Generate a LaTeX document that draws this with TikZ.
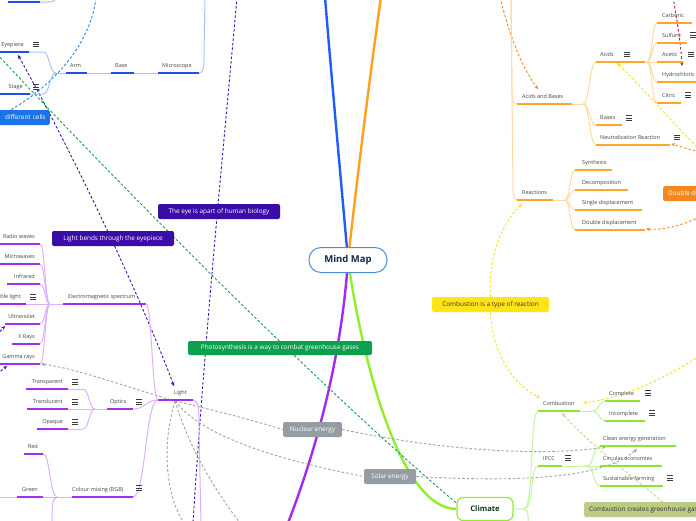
\documentclass[tikz,border=0pt]{standalone}
\usepackage{fontspec}
\setmainfont{Open Sans}
\usetikzlibrary{arrows.meta}
\definecolor{cBlue}{HTML}{1F5BFF}
\definecolor{cBlueD}{HTML}{1E50E8}
\definecolor{cBlueL}{HTML}{A9C3FF}
\definecolor{cOr}{HTML}{FFA11F}
\definecolor{cOrD}{HTML}{FFA52A}
\definecolor{cOrL}{HTML}{FFD9A3}
\definecolor{cPu}{HTML}{A626F5}
\definecolor{cPuD}{HTML}{A52DF2}
\definecolor{cPuL}{HTML}{DDB0FF}
\definecolor{cLi}{HTML}{8FEF2B}
\definecolor{cLiD}{HTML}{8EE52F}
\definecolor{cLiL}{HTML}{C6F49C}
\definecolor{txt}{HTML}{454545}
\definecolor{icon}{HTML}{3C3C3C}
\definecolor{ink}{HTML}{333333}
\definecolor{mmBorder}{HTML}{4A90D9}
\definecolor{mmText}{HTML}{15264A}
\definecolor{climText}{HTML}{17361A}
\definecolor{dIndigo}{HTML}{3A12B5}
\definecolor{bIndigo}{HTML}{3A0CA8}
\definecolor{dGreen}{HTML}{12A050}
\definecolor{bGreen}{HTML}{0BA04D}
\definecolor{dBlue}{HTML}{2B86E8}
\definecolor{bBlue}{HTML}{1A73E8}
\definecolor{dGray}{HTML}{A4A4A4}
\definecolor{bGray}{HTML}{969CA3}
\definecolor{dYel}{HTML}{FFE21A}
\definecolor{bYel}{HTML}{FFE419}
\definecolor{dOr}{HTML}{F08A2A}
\definecolor{bOr}{HTML}{F5871F}
\definecolor{dRed}{HTML}{D0103F}
\definecolor{dOl}{HTML}{C3D08E}
\definecolor{bOl}{HTML}{BCCB86}
\pgfdeclarelayer{back}
\pgfdeclarelayer{bg}
\pgfsetlayers{back,bg,main}
\tikzset{
 lbl/.style={font=\fontsize{5.5}{6.5}\selectfont,text=txt,inner sep=0pt},
 ul/.style={line width=1.7pt},
 cn/.style={line width=1pt},
 mainbr/.style={line width=2.4pt},
 dsh/.style={line width=0.9pt,dash pattern=on 2.6pt off 2pt},
 tipA/.style={-{Stealth[length=4pt,width=3.6pt]}},
 tipB/.style={{Stealth[length=4pt,width=3.6pt]}-{Stealth[length=4pt,width=3.6pt]}},
 lbox/.style={rounded corners=2pt,text=white,font=\fontsize{6.4}{7.5}\selectfont,inner xsep=5pt,inner ysep=0pt,minimum height=15pt},
 menuicon/.pic={\draw[line width=0.75pt,icon] (-3,-2.3)--(3,-2.3) (-3,0)--(3,0) (-3,2.3)--(3,2.3);}
}
\newcommand\tpL[7]{\node[lbl,anchor=base west] (#2) at (#3,#4-5.5) {#7};\draw[ul,#1] (#5,#4) -- (#6,#4);}
\newcommand\tpR[7]{\node[lbl,anchor=base east] (#2) at (#3,#4-5.5) {#7};\draw[ul,#1] (#5,#4) -- (#6,#4);}
\newcommand\micon[2]{\pic at (#1,#2) {menuicon};}
\newcommand\conn[5]{\draw[cn,#1] (#2,#3) .. controls ({(#2+#4)/2},#3) and ({(#2+#4)/2},#5) .. (#4,#5);}
\begin{document}
\begin{tikzpicture}[x=1pt,y=-1pt]
\useasboundingbox (0,0) rectangle (696,520);
\begin{pgfonlayer}{back}
\fill[white] (0,0) rectangle (696,520);
\end{pgfonlayer}

% ---------- central nodes ----------
\node[draw=mmBorder,line width=1pt,fill=white,rounded corners=12pt,minimum width=78pt,minimum height=25pt,inner sep=0pt,font=\bfseries\fontsize{9.5}{11}\selectfont,text=mmText] (mm) at (348,260) {Mind Map};
\node[draw=cLi,line width=1.2pt,fill=white,rounded corners=6pt,minimum width=56pt,minimum height=23pt,inner sep=0pt,font=\bfseries\fontsize{7.6}{9}\selectfont,text=climText] (climate) at (485,509) {Climate};

% ---------- label boxes ----------
\node[lbox,fill=bIndigo,minimum width=122pt] (eye) at (219,211.5) {The eye is apart of human biology};
\node[lbox,fill=bIndigo,minimum width=122pt] (bends) at (113,238.5) {Light bends through the eyepiece};
\node[lbox,fill=bGreen,minimum width=184pt,minimum height=14pt] (photo) at (280,348) {Photosynthesis is a way to combat greenhouse gases};
\node[lbox,fill=bBlue,anchor=east,text width=50pt,align=right,inner xsep=4pt] (cells) at (50,117.5) {different cells};
\node[lbox,fill=bYel,text=ink,minimum width=117pt] (cir) at (490.5,304.5) {Combustion is a type of reaction};
\node[lbox,fill=bOr,anchor=west] (dbl) at (663,193.5) {Double displacement reaction};
\node[lbox,fill=bGray,minimum width=59pt] (nuc) at (312.5,429.5) {Nuclear energy};
\node[lbox,fill=bGray,minimum width=52pt] (sol) at (390,476.5) {Solar energy};
\node[lbox,fill=bOl,text=ink,anchor=west] (gh) at (584,509.5) {Combustion creates greenhouse gases};

% ---------- blue (microscope) ----------
\tpL{cBlueD}{microscope}{162}{73}{158}{199}{Microscope}
\tpL{cBlueD}{base}{115}{73}{111}{134}{Base}
\tpL{cBlueD}{arm}{70}{73}{66}{87}{Arm}
\draw[cn,cBlueL] (134,73)--(158,73) (87,73)--(111,73) (55,73)--(66,73);
\draw[cn,cBlueL] (199,73) .. controls (204,73) and (204,66) .. (204,55) -- (205,-3);
\tpR{cBlueD}{eyepiece}{24}{52}{-2}{29}{Eyepiece}
\micon{36}{44.5}
\draw[cn,cBlueL] (29,52) -- (43,52) .. controls (50,52) and (49,73) .. (56,73);
\tpR{cBlueD}{stage}{23}{94}{-2}{30}{Stage}
\micon{36}{87}
\draw[cn,cBlueL] (30,94) -- (43,94) .. controls (50,94) and (49,73) .. (56,73);
\draw[ul,cBlueD] (8,2)--(40,2);
\draw[cn,cBlueL] (40,2) -- (48,2) .. controls (54,2) and (56,0) .. (57,-3);

% ---------- orange (chemistry) ----------
\draw[cn,cOrL] (511,-3) -- (512,92) .. controls (512,101) and (513,104) .. (519,104);
\draw[cn,cOrL] (511,-3) -- (513,188) .. controls (513,197) and (514,200) .. (519,200);
\tpL{cOrD}{ab}{522}{104}{517}{572}{Acids and Bases}
\draw[cn,cOrL] (572,104) -- (583,104);
\conn{cOrL}{583}{104}{596}{62}
\conn{cOrL}{583}{104}{596}{125}
\conn{cOrL}{583}{104}{596}{145}
\tpL{cOrD}{acids}{600}{62}{596}{645}{Acids}
\micon{627}{54.5}
\draw[cn,cOrL] (645,62)--(647,62);
\tpL{cOrD}{bases}{600}{125}{596}{622}{Bases}
\micon{629}{118}
\tpL{cOrD}{neut}{600}{145}{596}{670}{Neutralization Reaction}
\micon{677}{137.5}
\conn{cOrL}{647}{62}{657}{23}
\conn{cOrL}{647}{62}{657}{43}
\conn{cOrL}{647}{62}{657}{62}
\conn{cOrL}{647}{62}{657}{82}
\conn{cOrL}{647}{62}{657}{103}
\tpL{cOrD}{carb}{662}{23}{657}{692}{Carboric}
\tpL{cOrD}{sulf}{662}{43}{657}{687}{Sulfuric}
\micon{693}{35}
\tpL{cOrD}{acet}{662}{62}{657}{683}{Acetic}
\micon{691}{54.5}
\tpL{cOrD}{hydro}{662}{82}{657}{700}{Hydrochloric}
\tpL{cOrD}{citric}{662}{103}{657}{681}{Citric}
\micon{688}{95}
\tpL{cOrD}{reac}{522}{200}{517}{553}{Reactions}
\draw[cn,cOrL] (553,200)--(565,200);
\conn{cOrL}{565}{200}{575}{170}
\conn{cOrL}{565}{200}{575}{190}
\conn{cOrL}{565}{200}{575}{210}
\conn{cOrL}{565}{200}{575}{230}
\tpL{cOrD}{synth}{582}{170}{575}{612}{Synthesis}
\tpL{cOrD}{decomp}{582}{190}{575}{628}{Decomposition}
\tpL{cOrD}{single}{582}{210}{575}{642}{Single displacement}
\tpL{cOrD}{double}{582}{230}{575}{645}{Double displacement}

% ---------- purple (light) ----------
\tpL{cPuD}{light}{174}{400}{158}{193}{Light}
\draw[cn,cPuL] (193,400) .. controls (199,400) and (199,410) .. (199,430) -- (201,523);
\tpL{cPuD}{em}{68}{304}{63}{146}{Electromagnetic spectrum}
\draw[cn,cPuL] (50,304)--(63,304);
\conn{cPuL}{146}{304}{158}{400}
\conn{cPuL}{133}{409}{158}{400}
\conn{cPuL}{133}{497}{158}{400}
\tpR{cPuD}{radio}{35}{244}{-2}{40}{Radio waves}
\tpR{cPuD}{micro}{35}{264}{-2}{40}{Microwaves}
\tpR{cPuD}{infra}{35}{284}{7}{40}{Infrared}
\tpR{cPuD}{visible}{21}{304}{-2}{26}{Visible light}
\micon{33}{297}
\draw[cn,cPuL] (26,304)--(50,304);
\tpR{cPuD}{uv}{35}{324}{5}{40}{Ultraviolet}
\tpR{cPuD}{xray}{35}{344}{12}{40}{X Rays}
\tpR{cPuD}{gamma}{35}{364}{-2}{40}{Gamma rays}
\conn{cPuL}{40}{244}{50}{304}
\conn{cPuL}{40}{264}{50}{304}
\conn{cPuL}{40}{284}{50}{304}
\conn{cPuL}{40}{324}{50}{304}
\conn{cPuL}{40}{344}{50}{304}
\conn{cPuL}{40}{364}{50}{304}
\tpL{cPuD}{optics}{110}{409}{107}{133}{Optics}
\micon{139}{402}
\draw[cn,cPuL] (95,409)--(107,409);
\tpR{cPuD}{transp}{63}{389}{26}{68}{Transparent}
\micon{75}{382}
\tpR{cPuD}{transl}{63}{409}{27}{68}{Translucent}
\micon{75}{402}
\tpR{cPuD}{opaque}{63}{429}{37}{68}{Opaque}
\micon{75}{422}
\draw[cn,cPuL] (68,389)--(83,389) (68,409)--(83,409) (68,429)--(83,429);
\conn{cPuL}{83}{389}{95}{409}
\conn{cPuL}{83}{429}{95}{409}
\draw[cn,cPuL] (83,409)--(95,409);
\tpL{cPuD}{rgb}{72}{497}{72}{133}{Colour mixing (RGB)}
\micon{139}{488}
\draw[cn,cPuL] (57,497)--(72,497);
\tpR{cPuD}{red}{38}{454}{24}{43}{Red}
\tpR{cPuD}{green}{38}{497}{17}{43}{Green}
\draw[cn,cPuL] (-2,497)--(17,497) (43,497)--(57,497);
\conn{cPuL}{43}{454}{57}{497}
\draw[cn,cPuL] (57,497) .. controls (52,499) and (52,506) .. (52,523);

% ---------- lime (climate) ----------
\tpL{cLiD}{comb}{543}{411}{538}{580}{Combustion}
\draw[cn,cLiL] (580,411)--(593,411);
\tpL{cLiD}{complete}{609}{401}{605}{640}{Complete}
\micon{648}{393}
\tpL{cLiD}{incomplete}{609}{421}{605}{645}{Incomplete}
\micon{652}{413}
\conn{cLiL}{593}{411}{605}{401}
\conn{cLiL}{593}{411}{605}{421}
\tpL{cLiD}{ipcc}{543}{466}{538}{562}{IPCC}
\micon{568}{458}
\draw[cn,cLiL] (562,466)--(587,466);
\tpL{cLiD}{clean}{603}{446}{600}{676}{Clean energy generation}
\tpL{cLiD}{circ}{603}{466}{600}{662}{Circular economies}
\tpL{cLiD}{sust}{603}{486}{600}{663}{Sustainable farming}
\micon{670}{478}
\conn{cLiL}{587}{466}{600}{446}
\conn{cLiL}{587}{466}{600}{466}
\conn{cLiL}{587}{466}{600}{486}

% ---------- free coordinates ----------
\coordinate (lt) at (175,401);
\coordinate (cellsW) at (-5,118);

\begin{pgfonlayer}{bg}
% main branches
\draw[mainbr,cBlue] (mm.center) .. controls (340,170) and (330,60) .. (325,-3);
\draw[mainbr,cOr] (mm.center) .. controls (358,170) and (372,60) .. (381,-3);
\draw[mainbr,cPu] (mm.center) .. controls (342,350) and (320,440) .. (288,523);
\draw[mainbr,cLi] (mm.center) .. controls (362,360) and (400,509) .. (climate.west);
% climate children
\draw[cn,cLiL] (climate.east) -- (524,509) .. controls (534,509) and (530,411) .. (538,411);
\draw[cn,cLiL] (524,509) .. controls (534,509) and (530,466) .. (538,466);
\draw[cn,cLiL] (524,509) .. controls (529,510) and (528,515) .. (528,523);
% dashed relations
\draw[dsh,dBlue] (cellsW) .. controls (35,100) and (90,55) .. (96,-3);
\draw[dsh,dIndigo,tipB] (18,55) .. controls (60,130) and (130,270) .. (174,386);
\draw[dsh,dIndigo] (237,-3) .. controls (228,100) and (205,330) .. (193,523);
\draw[dsh,dIndigo,tipA] (-3,335) -- (5,326);
\draw[dsh,dIndigo,tipA] (-3,374) -- (7,366);
\draw[dsh,dGreen] (-3,54) .. controls (100,165) and (330,400) .. (478,521);
\draw[dsh,dGray,tipA] (lt) .. controls (130,388) and (75,368) .. (41,364);
\draw[dsh,dGray] (lt) .. controls (205,408) and (245,418) .. (nuc.west);
\draw[dsh,dGray,tipA] (nuc.east) .. controls (450,452) and (545,456) .. (606,447);
\draw[dsh,dGray] (lt) .. controls (205,440) and (290,462) .. (sol.west);
\draw[dsh,dGray,tipA] (sol.east) .. controls (500,481) and (600,482) .. (637,449);
\draw[dsh,dGray] (lt) .. controls (160,450) and (168,500) .. (184,523);
\draw[dsh,dGray] (lt) .. controls (190,450) and (215,490) .. (240,523);
\draw[dsh,dRed,tipA] (673,-3) .. controls (677,20) and (681,45) .. (682,66);
\draw[dsh,dYel,tipA] (700,150) .. controls (670,120) and (640,85) .. (617,63);
\draw[dsh,dOr,tipA] (700,152) .. controls (690,150) and (680,146) .. (671,144);
\draw[dsh,dOr,tipA] (700,217) .. controls (680,226) and (665,230) .. (646,229);
\draw[dsh,dOr,tipA] (500,-3) .. controls (508,30) and (520,65) .. (538,89);
\draw[dsh,dYel,tipA] (cir.north) .. controls (488,260) and (500,225) .. (522,204);
\draw[dsh,dYel,tipA] (cir.south) .. controls (492,350) and (510,382) .. (540,398);
\draw[dsh,dYel,tipA] (700,356) .. controls (660,380) and (630,396) .. (583,403);
\draw[dsh,dOl,tipA] (663,502) .. controls (630,475) and (585,440) .. (562,413);
\end{pgfonlayer}
\end{tikzpicture}
\end{document}
